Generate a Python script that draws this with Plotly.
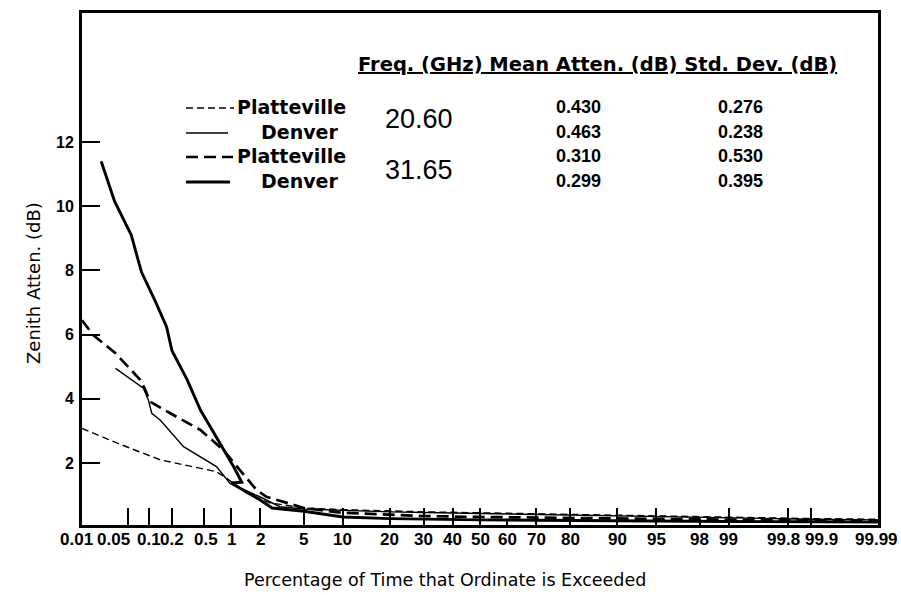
import plotly.graph_objects as go
from statistics import NormalDist

# ---------------- data (percent of time exceeded, attenuation dB) ----------------
pct_plat_206 = [0.01, 0.035, 0.14, 0.69, 0.89, 1.46, 2.47, 5, 10, 20, 30, 50, 70, 80, 90, 95, 98, 99, 99.9, 99.99]
db_plat_206 = [3.08, 2.62, 2.10, 1.73, 1.53, 1.06, 0.76, 0.60, 0.55, 0.50, 0.48, 0.45, 0.42, 0.40, 0.37, 0.35, 0.32, 0.30, 0.27, 0.25]

pct_den_206 = [0.033, 0.083, 0.097, 0.108, 0.14, 0.28, 0.69, 0.97, 1.98, 3.07, 5, 10, 20, 30, 50, 80, 90, 95, 99, 99.9, 99.99]
db_den_206 = [4.95, 4.33, 3.97, 3.55, 3.34, 2.51, 1.89, 1.37, 0.95, 0.64, 0.57, 0.52, 0.48, 0.46, 0.43, 0.38, 0.35, 0.33, 0.28, 0.25, 0.23]

pct_plat_3165 = [0.01, 0.015, 0.033, 0.075, 0.088, 0.103, 0.19, 0.45, 0.82, 1.25, 1.84, 2.3, 4.0, 5, 10, 20, 30, 50, 70, 80, 90, 95, 99, 99.9, 99.99]
db_plat_3165 = [6.45, 5.99, 5.42, 4.59, 4.28, 3.91, 3.55, 3.03, 2.41, 1.79, 1.16, 0.95, 0.69, 0.60, 0.45, 0.38, 0.35, 0.32, 0.30, 0.28, 0.26, 0.25, 0.23, 0.21, 0.20]

pct_den_3165 = [0.02, 0.032, 0.056, 0.078, 0.12, 0.17, 0.2, 0.31, 0.45, 0.63, 0.89, 1.06, 1.3, 1.0, 2.0, 2.6, 5, 10, 20, 30, 50, 70, 80, 90, 95, 99, 99.9, 99.99]
db_den_3165 = [11.4, 10.15, 9.1, 7.95, 7.05, 6.25, 5.5, 4.6, 3.65, 3.0, 2.3, 1.9, 1.4, 1.38, 0.85, 0.6, 0.5, 0.32, 0.27, 0.25, 0.23, 0.22, 0.21, 0.2, 0.19, 0.18, 0.17, 0.16]

# table text
freqs = ["20.60", "31.65"]
sites = ["Platteville", "Denver", "Platteville", "Denver"]
mean_atten = ["0.430", "0.463", "0.310", "0.299"]
std_dev = ["0.276", "0.238", "0.530", "0.395"]

# axis ticks
x_tick_labels = ["0.01", "0.05", "0.1", "0.2", "0.5", "1", "2", "5", "10", "20", "30", "40", "50",
                 "60", "70", "80", "90", "95", "98", "99", "99.8", "99.9", "99.99"]
x_long_ticks = [0.05, 0.1, 0.2, 0.5, 1, 2, 5, 10, 20, 30, 40, 50, 70, 80, 90, 95, 99, 99.8, 99.9]
x_short_ticks = [60, 98]
y_ticks = [2, 4, 6, 8, 10, 12]

# ---------------- helpers ----------------
nd = NormalDist()


def probit(p):
    return nd.inv_cdf(p / 100.0)


W, H = 901, 595
ML, MR, MT, MB = 82, 23, 13, 70
PW, PH = W - ML - MR, H - MT - MB


def px(x):
    return (x - ML) / PW


def py(y):
    return (H - MB - y) / PH


LAB = "Liberation Sans, Arial, sans-serif"
DJ = "DejaVu Sans, sans-serif"

series = [
    (pct_plat_206, db_plat_206, "Platteville 20.60 GHz", 1.4, "7px,4px"),
    (pct_den_206, db_den_206, "Denver 20.60 GHz", 1.4, "solid"),
    (pct_plat_3165, db_plat_3165, "Platteville 31.65 GHz", 2.7, "12px,6px"),
    (pct_den_3165, db_den_3165, "Denver 31.65 GHz", 2.9, "solid"),
]

fig = go.Figure()
for pcts, dbs, name, wid, dash in series:
    fig.add_trace(go.Scatter(
        x=[probit(p) for p in pcts], y=dbs, mode="lines", name=name,
        line=dict(color="black", width=wid, dash=dash), showlegend=False,
        hoverinfo="skip"))

# invisible trace on overlay axis for short ticks
fig.add_trace(go.Scatter(x=[probit(50)], y=[1], xaxis="x2", mode="markers",
                         marker=dict(opacity=0), showlegend=False, hoverinfo="skip"))

xr = [probit(0.01), probit(99.99)]
fig.update_layout(
    width=W, height=H,
    margin=dict(l=ML, r=MR, t=MT, b=MB, autoexpand=False),
    paper_bgcolor="white", plot_bgcolor="white",
    xaxis=dict(range=xr, tickvals=[probit(v) for v in x_long_ticks], showticklabels=False,
               ticks="inside", ticklen=17, tickwidth=2, tickcolor="black",
               showline=True, linewidth=3, linecolor="black", mirror=True,
               showgrid=False, zeroline=False),
    xaxis2=dict(range=xr, overlaying="x", anchor="y", side="bottom",
                tickvals=[probit(v) for v in x_short_ticks], showticklabels=False,
                ticks="inside", ticklen=6, tickwidth=2, tickcolor="black",
                showline=False, showgrid=False, zeroline=False),
    yaxis=dict(range=[0.07, 16.02], tickvals=y_ticks, ticktext=[str(v) for v in y_ticks],
               ticks="inside", ticklen=18, tickwidth=2, tickcolor="black",
               tickfont=dict(family=LAB, size=16, color="black", weight="bold"),
               ticklabelstandoff=2,
               showline=True, linewidth=3, linecolor="black", mirror=True,
               showgrid=False, zeroline=False),
)

ann = []
# x tick labels
x_label_shift = {"0.01": -6, "0.05": -14, "0.5": 2, "99.8": -5, "99.9": 11, "99.99": -2}
for lab in x_tick_labels:
    ann.append(dict(x=probit(float(lab)), y=0, xref="x", yref="paper", text=lab,
                    showarrow=False, xanchor="center", yanchor="top", yshift=-3,
                    xshift=x_label_shift.get(lab, 0),
                    font=dict(family=LAB, size=17, color="black", weight="bold")))

# axis titles
ann.append(dict(x=px(445), y=py(580), xref="paper", yref="paper",
                text="Percentage of Time that Ordinate is Exceeded", showarrow=False,
                xanchor="center", yanchor="middle",
                font=dict(family=DJ, size=17.5, color="black")))
ann.append(dict(x=px(33), y=py(283), xref="paper", yref="paper",
                text="Zenith Atten. (dB)", showarrow=False, textangle=-90,
                xanchor="center", yanchor="middle",
                font=dict(family=DJ, size=18, color="black")))

# table header
ann.append(dict(x=px(597), y=py(64), xref="paper", yref="paper",
                text="<u>Freq. (GHz) Mean Atten. (dB) Std. Dev. (dB)</u>", showarrow=False,
                xanchor="center", yanchor="middle",
                font=dict(family=DJ, size=19.5, color="black", weight="bold")))

row_y = [107, 132, 156, 181]
site_x = [291, 299, 291, 299]
for i in range(4):
    ann.append(dict(x=px(site_x[i]), y=py(row_y[i]), xref="paper", yref="paper", text=sites[i],
                    showarrow=False, xanchor="center", yanchor="middle",
                    font=dict(family=DJ, size=19, color="black", weight="bold")))
    ann.append(dict(x=px(578), y=py(row_y[i]), xref="paper", yref="paper", text=mean_atten[i],
                    showarrow=False, xanchor="center", yanchor="middle",
                    font=dict(family=LAB, size=18, color="black", weight="bold")))
    ann.append(dict(x=px(740), y=py(row_y[i]), xref="paper", yref="paper", text=std_dev[i],
                    showarrow=False, xanchor="center", yanchor="middle",
                    font=dict(family=LAB, size=18, color="black", weight="bold")))

freq_y = [119, 170]
for f, yy in zip(freqs, freq_y):
    ann.append(dict(x=px(419), y=py(yy), xref="paper", yref="paper", text=f,
                    showarrow=False, xanchor="center", yanchor="middle",
                    font=dict(family=LAB, size=27, color="black")))

fig.update_layout(annotations=ann)

# legend key samples
shapes = []
key_end = [234, 228, 233, 230]
for i, (_, _, _, wid, dash) in enumerate(series):
    shapes.append(dict(type="line", xref="paper", yref="paper",
                       x0=px(186), x1=px(key_end[i]), y0=py(row_y[i] + 1), y1=py(row_y[i] + 1),
                       line=dict(color="black", width=wid, dash=dash)))
fig.update_layout(shapes=shapes)

fig.write_html("out.html", config={"displayModeBar": False, "staticPlot": True},
               post_script="document.body.style.margin='0';")
